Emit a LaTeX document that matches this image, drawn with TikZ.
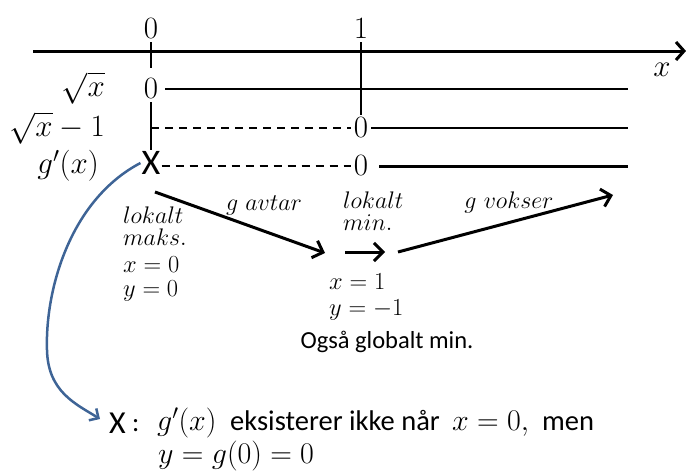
\RequirePackage{fix-cm}
\documentclass[tikz,border=0pt]{standalone}
\usepackage{fontspec}
\newfontfamily\calib{Carlito}
\usetikzlibrary{arrows.meta}
\definecolor{curveblue}{RGB}{62,100,150}
\newcommand\fsz[1]{\fontsize{#1}{#1}\selectfont}
\begin{document}
\begin{tikzpicture}[x=1pt,y=-1pt,
  big/.style={font=\fsz{31}, inner sep=3pt},
  lab/.style={font=\fsz{24}, inner sep=0pt},
  mid/.style={font=\fsz{24.5}, inner sep=0pt},
  cal/.style={font=\calib\fsz{24.5}, inner sep=0pt},
  bm/.style={font=\fsz{30}, inner sep=0pt},
  bc/.style={font=\calib\fsz{28.5}, inner sep=0pt},
  solidline/.style={line width=2pt},
  dsh/.style={line width=2pt, dash pattern=on 8pt off 6pt},
  arr/.style={line width=3pt, -{Straight Barb[length=9pt,width=18pt]}}]
\useasboundingbox (0,0) rectangle (686,471);
% axis
\coordinate (axs) at (33,51);
\coordinate (axe) at (686,51);
\draw[line width=3pt, -{Straight Barb[length=8pt,width=18pt]}] (axs) -- (axe);
\node[big] (zero) at (151,29) {$0$};
\node[big] (one) at (361,29) {$1$};
\node[big] (xl) at (662,70) {$x$};
\coordinate (t0) at (151,68);
\draw[solidline] (zero.south) -- (t0);
% row labels
\node[big, anchor=east] (l1) at (108,88) {$\sqrt{x}$};
\node[big, anchor=east] (l2) at (108,128) {$\sqrt{x}-1$};
\node[big, anchor=east] (l3) at (102,166) {$g'(x)$};
% row zeros and X
\node[big] (z1) at (151,89) {$0$};
\node[big] (z2) at (361,128) {$0$};
\node[big] (z3) at (361,166) {$0$};
\node[font=\calib\fsz{36}, inner sep=1pt] (X) at (151,163) {X};
\coordinate (e1) at (628,89);
\coordinate (e2) at (628,128);
\coordinate (e3) at (628,166);
\coordinate (d2) at (151,128);
\draw[solidline] (z1.south) -- (X.north);
\draw[solidline] (one.south) -- (z2.north);
\draw[solidline] ([xshift=4pt]z1.east) -- (e1);
\draw[dsh] (d2) -- (z2.west);
\draw[solidline] (z2.east) -- (e2);
\draw[dsh] (X.east |- z3.west) -- (z3.west);
\draw[line width=3pt] ([xshift=8pt]z3.east) -- (e3);
% arrows
\coordinate (a1s) at (155,192);
\coordinate (a1e) at (325,253);
\coordinate (a2s) at (345,252);
\coordinate (a2e) at (385,252);
\coordinate (a3s) at (398,252);
\coordinate (a3e) at (613,195);
\draw[arr] (a1s) -- (a1e);
\draw[arr] (a2s) -- (a2e);
\draw[arr] (a3s) -- (a3e);
\node[lab, anchor=base] (gav) at (264,210) {$g\ avtar$};
\node[lab, anchor=base west] (lmin1) at (343,208) {$lokalt$};
\node[lab, anchor=base west] (lmin2) at (343,230) {$min.$};
\node[lab, anchor=base] (gvok) at (509,208) {$g\ vokser$};
% left block
\node[lab, anchor=base west] (lk) at (123,223) {$lokalt$};
\node[lab, anchor=base west] (mk) at (123,245) {$maks.$};
\node[mid, anchor=base west] (x0) at (123,272) {$x=0$};
\node[mid, anchor=base west] (y0) at (123,296) {$y=0$};
% min block
\node[mid, anchor=base west] (x1) at (329,289) {$x=1$};
\node[mid, anchor=base west] (y1) at (329,315) {$y=-1$};
\node[cal, anchor=base] (glob) at (387,348) {Også globalt min.};
% bottom
\node[font=\calib\fsz{32}, inner sep=0pt, anchor=base west] (bX) at (109,433) {X};
\node[font=\calib\fsz{27}, inner sep=0pt, anchor=base west] (colon) at (132,431) {:};
\node[bm, anchor=base west] (bg) at (157,430) {$g'(x)$};
\node[bc, anchor=base west] (btx) at (230,430) {eksisterer ikke når};
\node[bm, anchor=base west] (bx0) at (452,430) {$x=0,$};
\node[bc, anchor=base west] (bmen) at (542,430) {men};
\node[bm, anchor=base west] (by) at (158,463) {$y=g(0)=0$};
% blue curve
\coordinate (ctip) at (100,419);
\draw[curveblue, line width=2.5pt, -{Straight Barb[length=7pt,width=14pt]}]
  (X.west) .. controls (70,200) and (45,290) .. (47,350)
  .. controls (48,392) and (76,404) .. (ctip);
\end{tikzpicture}
\end{document}
